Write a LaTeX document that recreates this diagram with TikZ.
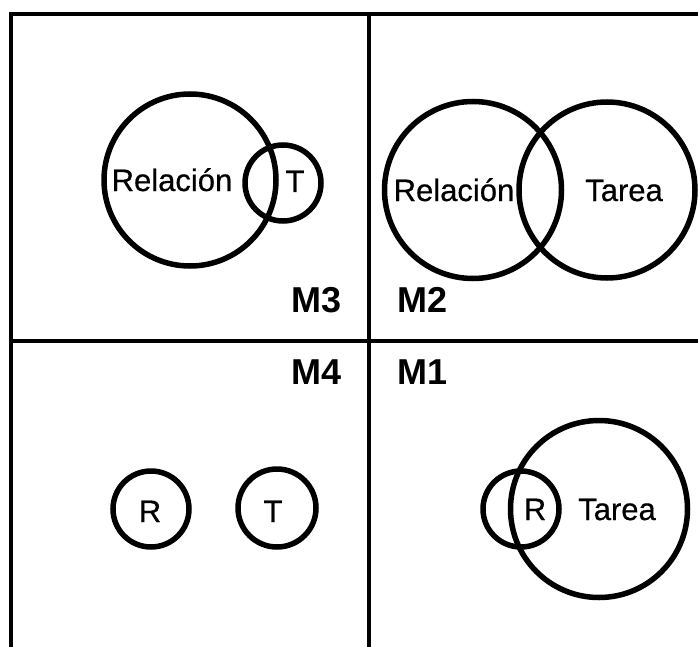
\documentclass[tikz,border=0pt]{standalone}
\usepackage{fontspec}
\setmainfont{Liberation Sans}
\newfontfamily\heavyfont[FakeBold=0.6]{Liberation Sans}
\begin{document}
\begin{tikzpicture}[x=1pt,y=-1pt,
  ring/.style={draw,line width=5.5pt,circle,inner sep=0pt},
  frameline/.style={line width=4.5pt},
  lbl/.style={font=\heavyfont\fontsize{31}{31}\selectfont,inner sep=0pt,anchor=base},
  mlbl/.style={font=\fontsize{36}{36}\selectfont\bfseries,inner sep=0pt}]
\useasboundingbox (0,0) rectangle (698,647);
% frame
\coordinate (tl) at (11,14);
\coordinate (tr) at (700,14);
\coordinate (bl) at (11,649);
\coordinate (vt) at (369,14);
\coordinate (vb) at (369,649);
\coordinate (hl) at (11,341);
\coordinate (hr) at (700,341);
\draw[frameline] (bl) -- (tl) -- (tr);
\draw[frameline] (vt) -- (vb);
\draw[frameline] (hl) -- (hr);
% M3 quadrant
\node[ring,minimum size=172pt] (c3a) at (190,180) {};
\node[ring,minimum size=76pt] (c3b) at (283,183) {};
\node[lbl] (t3a) at (172,191) {Relación};
\node[lbl] (t3b) at (295,192) {T};
% M2 quadrant
\node[ring,minimum size=177pt] (c2a) at (473,190) {};
\node[ring,minimum size=176pt] (c2b) at (607,190) {};
\node[lbl] (t2a) at (454,201) {Relación};
\node[lbl] (t2b) at (624,201) {Tarea};
% M4 quadrant
\node[ring,minimum size=76pt] (c4a) at (151,509) {};
\node[ring,minimum size=78pt] (c4b) at (277,508) {};
\node[lbl] (t4a) at (150,522) {R};
\node[lbl] (t4b) at (273,522) {T};
% M1 quadrant
\node[ring,minimum size=76pt] (c1a) at (521,509) {};
\node[ring,minimum size=177pt] (c1b) at (599,509) {};
\node[lbl] (t1a) at (535,520) {R};
\node[lbl] (t1b) at (617,520) {Tarea};
% quadrant labels
\node[mlbl,anchor=base east] (m3) at (342,312) {M3};
\node[mlbl,anchor=base west] (m2) at (397,312) {M2};
\node[mlbl,anchor=base east] (m4) at (342,384) {M4};
\node[mlbl,anchor=base west] (m1) at (397,384) {M1};
\end{tikzpicture}
\end{document}
